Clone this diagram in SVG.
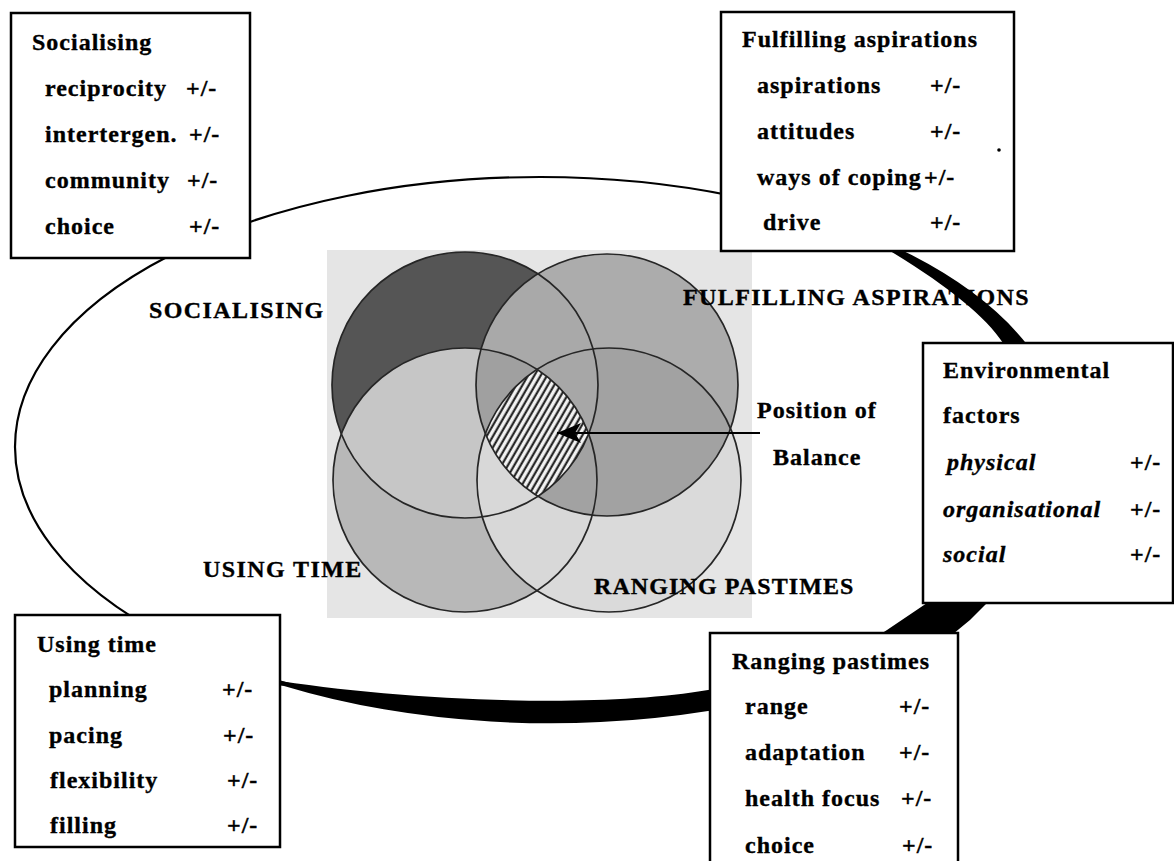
<svg xmlns="http://www.w3.org/2000/svg" width="1174" height="861" viewBox="0 0 1174 861">
<style>
.t{font-family:"Liberation Serif","Times New Roman",serif;font-weight:bold;font-size:24px;letter-spacing:1px;fill:#000;stroke:#000;stroke-width:0.35}
.i{font-style:italic}
.cap{letter-spacing:1.4px}
.box{fill:#fff;stroke:#000;stroke-width:2.5}
.ring{fill:none;stroke:#262626;stroke-width:1.7}
</style>
<defs>
<clipPath id="cA"><circle cx="465" cy="385" r="133"/></clipPath>
<clipPath id="cB"><circle cx="607" cy="385" r="131"/></clipPath>
<clipPath id="cC"><circle cx="465" cy="480" r="132"/></clipPath>
<clipPath id="cD"><circle cx="609" cy="480" r="132"/></clipPath>
<pattern id="hatch" width="5.5" height="5.5" patternUnits="userSpaceOnUse" patternTransform="rotate(30)">
<rect width="5.5" height="5.5" fill="#f2f2f2"/>
<line x1="1.5" y1="-1" x2="1.5" y2="6.5" stroke="#111" stroke-width="2"/>
</pattern>
<marker id="arr" viewBox="0 0 24 20" refX="24" refY="10" markerWidth="24" markerHeight="20" markerUnits="userSpaceOnUse" orient="auto">
<path d="M0,0 L24,10 L0,20 L6,10 Z" fill="#000"/>
</marker>
</defs>

<g id="venn">
<rect x="327" y="250" width="425" height="368" fill="#e5e5e5"/>
<circle cx="609" cy="480" r="132" fill="#dadada"/>
<circle cx="465" cy="480" r="132" fill="#b8b8b8"/>
<circle cx="607" cy="385" r="131" fill="#acacac"/>
<circle cx="465" cy="385" r="133" fill="#555555"/>
<g clip-path="url(#cA)">
<circle cx="465" cy="480" r="132" fill="#c6c6c6"/>
<circle cx="607" cy="385" r="131" fill="#a9a9a9"/>
</g>
<g clip-path="url(#cC)"><circle cx="609" cy="480" r="132" fill="#d8d8d8"/></g>
<g clip-path="url(#cB)"><circle cx="609" cy="480" r="132" fill="#a2a2a2"/></g>
<g clip-path="url(#cA)"><g clip-path="url(#cB)">
<circle cx="465" cy="480" r="132" fill="#a0a0a0"/>
<circle cx="609" cy="480" r="132" fill="#a7a7a7"/>
</g></g>
<g clip-path="url(#cA)"><g clip-path="url(#cB)"><g clip-path="url(#cC)">
<circle cx="609" cy="480" r="132" fill="url(#hatch)"/>
</g></g></g>
<circle class="ring" cx="465" cy="385" r="133"/>
<circle class="ring" cx="607" cy="385" r="131"/>
<circle class="ring" cx="465" cy="480" r="132"/>
<circle class="ring" cx="609" cy="480" r="132"/>
</g>

<g id="venn-labels">
<text class="t cap" x="149" y="318">SOCIALISING</text>
<text class="t cap" x="683" y="305">FULFILLING ASPIRATIONS</text>
<text class="t cap" x="203" y="577">USING TIME</text>
<text class="t cap" x="594" y="594" style="letter-spacing:1.1px">RANGING PASTIMES</text>
</g>

<g id="balance">
<line x1="760" y1="433" x2="557" y2="433" stroke="#000" stroke-width="2" marker-end="url(#arr)"/>
<text class="t" x="757" y="418">Position of</text>
<text class="t" x="773" y="465">Balance</text>
</g>

<g id="connectors">
<path d="M 863,234 A 525 270 0 0 1 1024.5,343 C 1062,400 1075,520 987,603 L 970,620 L 953,634 C 900,680 790,706 708,711 A 527 271 0 0 1 284,686 L 268,684 L 268,679 C 400,701 600,709 708,690 C 790,678 850,655 887,630 L 927,603 C 975,545 1012,420 1003,343 C 985,315 940,280 880,245 L 858,236 Z" fill="#000"/>
<ellipse cx="540" cy="447" rx="525" ry="270" fill="none" stroke="#000" stroke-width="2.2"/>
</g>

<g id="box-socialising">
<rect class="box" x="11" y="13" width="239" height="245"/>
<text class="t" x="32" y="50">Socialising</text>
<text class="t" x="45" y="96">reciprocity</text><text class="t" x="186" y="96">+/-</text>
<text class="t" x="45" y="142">intertergen.</text><text class="t" x="189" y="142">+/-</text>
<text class="t" x="45" y="188">community</text><text class="t" x="187" y="188">+/-</text>
<text class="t" x="45" y="234">choice</text><text class="t" x="189" y="234">+/-</text>
</g>

<g id="box-fulfilling">
<rect class="box" x="721" y="12" width="293" height="239"/>
<text class="t" x="742" y="47">Fulfilling aspirations</text>
<text class="t" x="757" y="93">aspirations</text><text class="t" x="930" y="93">+/-</text>
<text class="t" x="757" y="139">attitudes</text><text class="t" x="930" y="139">+/-</text>
<text class="t" x="757" y="185">ways of coping</text><text class="t" x="924" y="185">+/-</text>
<text class="t" x="763" y="230">drive</text><text class="t" x="930" y="230">+/-</text>
<circle cx="999" cy="150" r="1.8" fill="#000"/>
</g>

<g id="box-environmental">
<rect class="box" x="923" y="343" width="250" height="260"/>
<text class="t" x="943" y="378">Environmental</text>
<text class="t" x="943" y="423">factors</text>
<text class="t i" x="947" y="470">physical</text><text class="t" x="1130" y="470">+/-</text>
<text class="t i" x="943" y="517">organisational</text><text class="t" x="1130" y="517">+/-</text>
<text class="t i" x="943" y="562">social</text><text class="t" x="1130" y="562">+/-</text>
</g>

<g id="box-usingtime">
<rect class="box" x="15" y="615" width="265" height="232"/>
<text class="t" x="37" y="652">Using time</text>
<text class="t" x="49" y="697">planning</text><text class="t" x="222" y="697">+/-</text>
<text class="t" x="49" y="743">pacing</text><text class="t" x="223" y="743">+/-</text>
<text class="t" x="50" y="788">flexibility</text><text class="t" x="227" y="788">+/-</text>
<text class="t" x="50" y="833">filling</text><text class="t" x="227" y="833">+/-</text>
</g>

<g id="box-ranging">
<rect class="box" x="710" y="633" width="248" height="240"/>
<text class="t" x="732" y="669">Ranging pastimes</text>
<text class="t" x="745" y="714">range</text><text class="t" x="899" y="714">+/-</text>
<text class="t" x="745" y="760">adaptation</text><text class="t" x="899" y="760">+/-</text>
<text class="t" x="745" y="806">health focus</text><text class="t" x="901" y="806">+/-</text>
<text class="t" x="745" y="853">choice</text><text class="t" x="902" y="853">+/-</text>
</g>
</svg>
